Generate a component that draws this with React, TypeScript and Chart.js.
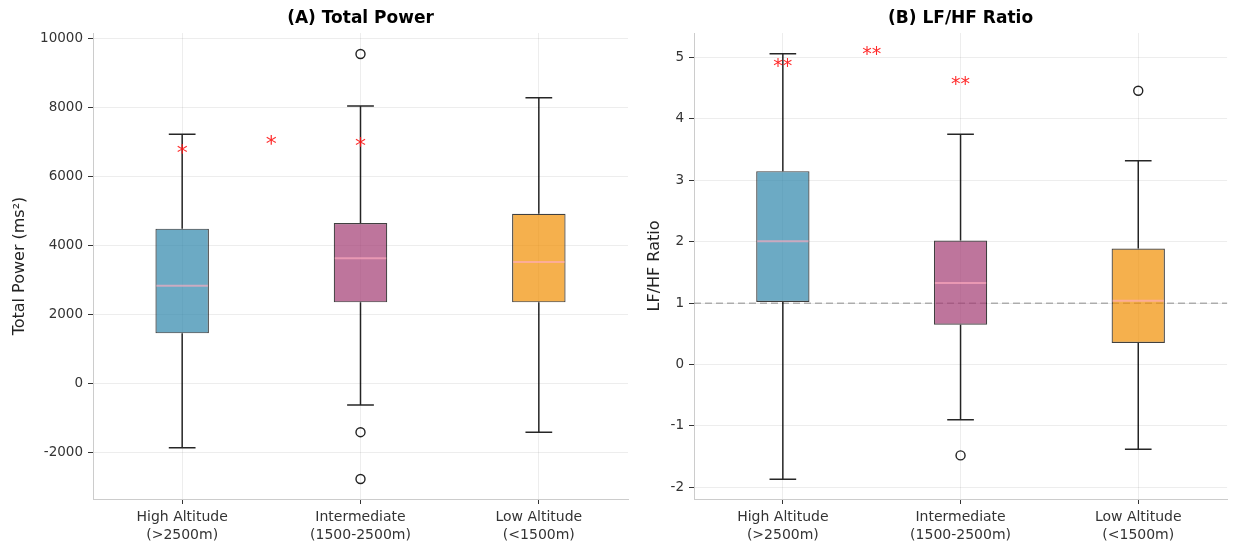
import React, { useEffect, useRef } from 'react';
import { Chart, registerables } from 'chart.js';

Chart.register(...registerables);
Chart.defaults.font.family = "'DejaVu Sans', sans-serif";

// ---------- shared ----------
const categories = [
  ['High Altitude', '(>2500m)'],
  ['Intermediate', '(1500-2500m)'],
  ['Low Altitude', '(<1500m)'],
];
const categoryPositions = [1, 2, 3];
const boxColors = ['rgba(46,134,171,0.7)', 'rgba(162,59,114,0.7)', 'rgba(241,143,1,0.7)'];

// ---------- (A) Total Power ----------
const tpLow = [-1870, -630, -1420];
const tpQ1 = [1450, 2350, 2350];
const tpMedian = [2830, 3630, 3520];
const tpQ3 = [4490, 4650, 4920];
const tpHigh = [7230, 8050, 8290];
const tpOutlierPos = [2, 2, 2];
const tpOutlierValue = [9560, -1420, -2780];
const tpStarX = [1, 1.5, 2];
const tpStarY = [6860, 7110, 7050];
const tpStarText = ['*', '*', '*'];
const tpTicks = [-2000, 0, 2000, 4000, 6000, 8000, 10000];

// ---------- (B) LF/HF Ratio ----------
const lfLow = [-1.87, -0.9, -1.38];
const lfQ1 = [1.02, 0.65, 0.35];
const lfMedian = [2.01, 1.33, 1.04];
const lfQ3 = [3.15, 2.02, 1.89];
const lfHigh = [5.06, 3.75, 3.32];
const lfOutlierPos = [2, 3];
const lfOutlierValue = [-1.48, 4.46];
const lfStarX = [1, 1.5, 2];
const lfStarY = [4.95, 5.14, 4.66];
const lfStarText = ['**', '**', '**'];
const lfTicks = [-2, -1, 0, 1, 2, 3, 4, 5];
const lfRefLine = 1;

type Panel = {
  key: string;
  title: string;
  yTitle: string;
  low: number[];
  q1: number[];
  median: number[];
  q3: number[];
  high: number[];
  outPos: number[];
  outVal: number[];
  starX: number[];
  starY: number[];
  starText: string[];
  starSize: number;
  ticks: number[];
  yMin: number;
  yMax: number;
  refLine?: number;
  yWidth: number;
  padRight: number;
  titlePad: number;
};

const panelA: Panel = {
  key: 'A',
  title: '(A) Total Power',
  yTitle: 'Total Power (ms²)',
  low: tpLow, q1: tpQ1, median: tpMedian, q3: tpQ3, high: tpHigh,
  outPos: tpOutlierPos, outVal: tpOutlierValue,
  starX: tpStarX, starY: tpStarY, starText: tpStarText, starSize: 22,
  ticks: tpTicks, yMin: -3360, yMax: 10170,
  yWidth: 93, padRight: 12, titlePad: 10,
};

const panelB: Panel = {
  key: 'B',
  title: '(B) LF/HF Ratio',
  yTitle: 'LF/HF Ratio',
  low: lfLow, q1: lfQ1, median: lfMedian, q3: lfQ3, high: lfHigh,
  outPos: lfOutlierPos, outVal: lfOutlierValue,
  starX: lfStarX, starY: lfStarY, starText: lfStarText, starSize: 19,
  ticks: lfTicks, yMin: -2.19, yMax: 5.4, refLine: lfRefLine,
  yWidth: 54, padRight: 4, titlePad: 5,
};

function makeBoxPlugin(p: Panel) {
  return {
    id: 'boxExtras' + p.key,
    beforeDatasetsDraw(chart: any) {
      if (p.refLine === undefined) return;
      const { ctx, chartArea } = chart;
      const y = chart.scales.y.getPixelForValue(p.refLine);
      ctx.save();
      ctx.strokeStyle = 'rgba(128,128,128,0.6)';
      ctx.lineWidth = 1.5;
      ctx.setLineDash([7, 4]);
      ctx.beginPath();
      ctx.moveTo(chartArea.left, y);
      ctx.lineTo(chartArea.right, y);
      ctx.stroke();
      ctx.restore();
    },
    afterDatasetsDraw(chart: any) {
      const { ctx } = chart;
      const xs = chart.scales.x;
      const ys = chart.scales.y;
      ctx.save();
      categoryPositions.forEach((pos, i) => {
        const cx = xs.getPixelForValue(pos);
        const capL = xs.getPixelForValue(pos - 0.075);
        const capR = xs.getPixelForValue(pos + 0.075);
        const boxL = xs.getPixelForValue(pos - 0.15);
        const boxR = xs.getPixelForValue(pos + 0.15);
        const yLow = ys.getPixelForValue(p.low[i]);
        const yQ1 = ys.getPixelForValue(p.q1[i]);
        const yQ3 = ys.getPixelForValue(p.q3[i]);
        const yHigh = ys.getPixelForValue(p.high[i]);
        const yMed = ys.getPixelForValue(p.median[i]);
        ctx.strokeStyle = 'rgba(0,0,0,0.85)';
        ctx.lineWidth = 1.5;
        ctx.beginPath();
        ctx.moveTo(cx, yQ1);
        ctx.lineTo(cx, yLow);
        ctx.moveTo(cx, yQ3);
        ctx.lineTo(cx, yHigh);
        ctx.moveTo(capL, yLow);
        ctx.lineTo(capR, yLow);
        ctx.moveTo(capL, yHigh);
        ctx.lineTo(capR, yHigh);
        ctx.stroke();
        ctx.strokeStyle = 'rgba(255,170,190,0.65)';
        ctx.lineWidth = 2;
        ctx.beginPath();
        ctx.moveTo(boxL + 1, yMed);
        ctx.lineTo(boxR - 1, yMed);
        ctx.stroke();
      });
      ctx.fillStyle = 'rgba(255,20,20,0.9)';
      ctx.font = `${p.starSize}px 'DejaVu Sans', sans-serif`;
      ctx.textAlign = 'center';
      ctx.textBaseline = 'alphabetic';
      p.starX.forEach((sx, i) => {
        const px = xs.getPixelForValue(sx);
        const py = ys.getPixelForValue(p.starY[i]);
        ctx.fillText(p.starText[i], px, py + p.starSize * 0.59);
      });
      ctx.restore();
    },
  };
}

function buildConfig(p: Panel): any {
  const gridColor = 'rgba(0,0,0,0.07)';
  return {
    type: 'bar',
    data: {
      datasets: [
        {
          type: 'bar',
          data: categoryPositions.map((pos, i) => ({ x: pos, y: [p.q1[i], p.q3[i]] })),
          backgroundColor: boxColors,
          borderColor: 'rgba(0,0,0,0.75)',
          borderWidth: 1.2,
          borderSkipped: false,
          barPercentage: 0.3,
          categoryPercentage: 1,
          order: 2,
        },
        {
          type: 'scatter',
          data: p.outPos.map((pos, i) => ({ x: pos, y: p.outVal[i] })),
          pointRadius: 4.5,
          pointBorderWidth: 1.4,
          pointBackgroundColor: 'rgba(255,255,255,0)',
          pointBorderColor: '#222',
          order: 1,
        },
      ],
    },
    options: {
      responsive: false,
      animation: false,
      devicePixelRatio: 1,
      events: [],
      layout: { padding: { left: 0, right: p.padRight, top: 0, bottom: 0 } },
      plugins: {
        legend: { display: false },
        tooltip: { enabled: false },
        title: {
          display: true,
          text: p.title,
          fullSize: false,
          color: '#000',
          font: { size: 17, weight: 'bold' },
          padding: { top: 8, bottom: 4.6 },
        },
      },
      scales: {
        x: {
          type: 'linear',
          min: 0.5,
          max: 3.5,
          offset: false,
          afterBuildTicks: (s: any) => {
            s.ticks = categoryPositions.map((v) => ({ value: v }));
          },
          afterFit: (s: any) => {
            s.height = 50;
          },
          ticks: {
            callback: (v: number) => categories[Math.round(v) - 1],
            font: { size: 14, lineHeight: 1.28 },
            color: '#333',
            padding: 4,
            autoSkip: false,
            maxRotation: 0,
          },
          grid: { color: gridColor, tickColor: '#333', tickLength: 5, drawTicks: true, offset: false },
          border: { display: true, color: '#cccccc', width: 1 },
        },
        y: {
          type: 'linear',
          min: p.yMin,
          max: p.yMax,
          afterBuildTicks: (s: any) => {
            s.ticks = p.ticks.map((v) => ({ value: v }));
          },
          afterFit: (s: any) => {
            s.width = p.yWidth;
          },
          ticks: {
            callback: (v: number) => String(v),
            font: { size: 13.5 },
            color: '#333',
            padding: 5,
          },
          grid: { color: gridColor, tickColor: '#333', tickLength: 5, drawTicks: true },
          border: { display: true, color: '#cccccc', width: 1 },
          title: {
            display: true,
            text: p.yTitle,
            color: '#222',
            font: { size: 16 },
            padding: { top: p.titlePad, bottom: 0 },
          },
        },
      },
    },
    plugins: [makeBoxPlugin(p)],
  };
}

function PanelChart({ panel, left, width }: { panel: Panel; left: number; width: number }) {
  const ref = useRef<HTMLCanvasElement | null>(null);
  useEffect(() => {
    if (!ref.current) return;
    const chart = new Chart(ref.current, buildConfig(panel));
    return () => chart.destroy();
  }, [panel]);
  return (
    <canvas
      ref={ref}
      width={width}
      height={549}
      style={{ position: 'absolute', left, top: 0, width, height: 549, display: 'block' }}
    />
  );
}

export default function App() {
  return (
    <div style={{ position: 'absolute', left: 0, top: 0, width: 1233, height: 549, background: '#fff' }}>
      <PanelChart panel={panelA} left={0} width={640} />
      <PanelChart panel={panelB} left={640} width={593} />
    </div>
  );
}
